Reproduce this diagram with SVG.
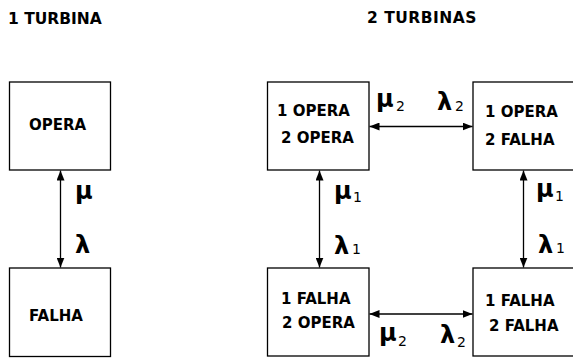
<svg xmlns="http://www.w3.org/2000/svg" width="573" height="358" viewBox="0 0 573 358">
<defs>
<marker id="ah" markerUnits="userSpaceOnUse" markerWidth="10" markerHeight="8" refX="10" refY="4" orient="auto-start-reverse">
<path d="M0,0 L10,4 L0,8 z" fill="#000"/>
</marker>
<style>
.box{fill:#fff;stroke:#000;stroke-width:1.3}
.t{font-family:"DejaVu Sans",Verdana,sans-serif;font-weight:bold;font-size:15px;fill:#000}
.ttl{font-family:"DejaVu Sans",Verdana,sans-serif;font-weight:bold;font-size:15.5px;fill:#000}
.g{font-family:"DejaVu Sans",sans-serif;font-weight:bold;font-size:24px;fill:#000}
.s{font-family:"DejaVu Sans",sans-serif;font-size:14px;fill:#000}
.c{stroke:#000;stroke-width:1.3;fill:none;marker-start:url(#ah);marker-end:url(#ah)}
</style>
</defs>
<rect width="573" height="358" fill="#fff"/>
<text class="ttl" x="8" y="24">1 TURBINA</text>
<text class="ttl" x="367" y="23" letter-spacing="0.5">2 TURBINAS</text>

<g id="opera">
<rect class="box" x="9.5" y="82" width="101" height="88"/>
<text class="t" x="29" y="129.5">OPERA</text>
</g>
<g id="falha">
<rect class="box" x="9.5" y="268" width="101" height="88.5"/>
<text class="t" x="29" y="321">FALHA</text>
</g>
<g id="oo">
<rect class="box" x="267.5" y="82" width="101.5" height="88"/>
<text class="t" x="277" y="116">1 OPERA</text>
<text class="t" x="281" y="143">2 OPERA</text>
</g>
<g id="of">
<rect class="box" x="473" y="82" width="110" height="88"/>
<text class="t" x="485" y="117">1 OPERA</text>
<text class="t" x="485" y="145">2 FALHA</text>
</g>
<g id="fo">
<rect class="box" x="267.5" y="268" width="101.5" height="88"/>
<text class="t" x="281" y="304">1 FALHA</text>
<text class="t" x="282" y="328">2 OPERA</text>
</g>
<g id="ff">
<rect class="box" x="473" y="268" width="110" height="88"/>
<text class="t" x="485" y="306">1 FALHA</text>
<text class="t" x="489" y="331">2 FALHA</text>
</g>

<g id="connectors">
<line class="c" x1="60.5" y1="170.5" x2="60.5" y2="267.5"/>
<line class="c" x1="369.5" y1="126.5" x2="472.5" y2="126.5"/>
<line class="c" x1="369.5" y1="314" x2="472.5" y2="314"/>
<line class="c" x1="319.5" y1="170.5" x2="319.5" y2="267.5"/>
<line class="c" x1="523.5" y1="170.5" x2="523.5" y2="267.5"/>
</g>

<g id="labels">
<text class="g" x="75" y="198.5">μ</text>
<text class="g" x="75" y="253">λ</text>

<text class="g" x="376" y="106.5">μ</text><text class="s" x="396" y="111">2</text>
<text class="g" x="437" y="110">λ</text><text class="s" x="455" y="111">2</text>

<text class="g" x="379" y="340.5">μ</text><text class="s" x="398" y="346">2</text>
<text class="g" x="440" y="343">λ</text><text class="s" x="457" y="347">2</text>

<text class="g" x="334" y="198.5">μ</text><text class="s" x="353" y="202">1</text>
<text class="g" x="334" y="254">λ</text><text class="s" x="352" y="254">1</text>

<text class="g" x="536" y="196.5">μ</text><text class="s" x="555" y="201">1</text>
<text class="g" x="538" y="253">λ</text><text class="s" x="556" y="253">1</text>
</g>
</svg>
